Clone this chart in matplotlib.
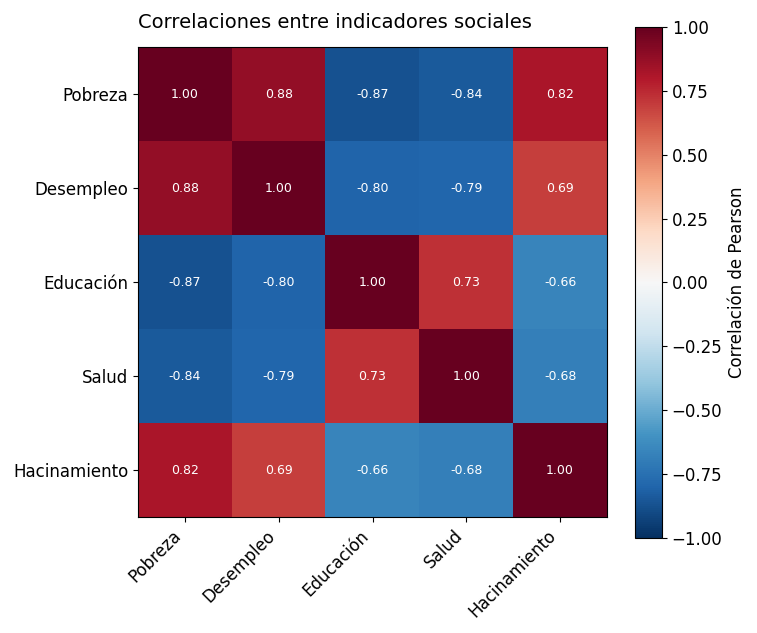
import numpy as np
import matplotlib
matplotlib.use("Agg")
import matplotlib.pyplot as plt

indicadores = ["Pobreza", "Desempleo", "Educación", "Salud", "Hacinamiento"]
pobreza = [1.00, 0.88, -0.87, -0.84, 0.82]
desempleo = [0.88, 1.00, -0.80, -0.79, 0.69]
educacion = [-0.87, -0.80, 1.00, 0.73, -0.66]
salud = [-0.84, -0.79, 0.73, 1.00, -0.68]
hacinamiento = [0.82, 0.69, -0.66, -0.68, 1.00]

corr = np.array([pobreza, desempleo, educacion, salud, hacinamiento])

fig = plt.figure(figsize=(7.57, 6.33), dpi=100)
ax = fig.add_axes([138 / 757, 116 / 633, 469 / 757, 470 / 633])
cax = fig.add_axes([635 / 757, 95 / 633, 27 / 757, 511 / 633])

im = ax.imshow(corr, cmap="RdBu_r", vmin=-1, vmax=1, aspect="auto")

ax.set_xticks(range(len(indicadores)))
ax.set_yticks(range(len(indicadores)))
ax.set_xticklabels(indicadores, rotation=45, ha="right", fontsize=12)
ax.set_yticklabels(indicadores, fontsize=12)

for i in range(len(indicadores)):
    for j in range(len(indicadores)):
        ax.text(j, i, f"{corr[i, j]:.2f}", ha="center", va="center", color="white", fontsize=9)

ax.set_title("Correlaciones entre indicadores sociales", loc="left", fontsize=14, pad=14)

cb = fig.colorbar(im, cax=cax)
cb.set_label("Correlación de Pearson", fontsize=12)
cb.ax.tick_params(labelsize=12)

fig.savefig("out.png", dpi=100)
